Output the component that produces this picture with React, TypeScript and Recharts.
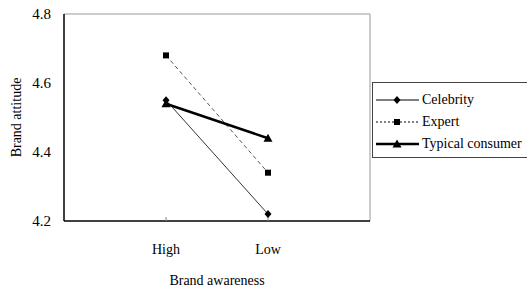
import React from "react";
import { LineChart, Line, XAxis, YAxis, ReferenceLine } from "recharts";

const awareness = ["High", "Low"];
const celebrity = [4.55, 4.22];
const expert = [4.68, 4.34];
const typical = [4.54, 4.44];
const yTicks = [4.2, 4.4, 4.6, 4.8];

const data = awareness.map((name, i) => ({
  pos: i + 1,
  name,
  celebrity: celebrity[i],
  expert: expert[i],
  typical: typical[i],
}));

const FONT = "Liberation Serif, serif";

type DotProps = { cx?: number; cy?: number; index?: number };

const Diamond = ({ cx = 0, cy = 0 }: DotProps) => (
  <polygon points={`${cx},${cy - 4} ${cx + 3.5},${cy} ${cx},${cy + 4} ${cx - 3.5},${cy}`} fill="#000" />
);
const Square = ({ cx = 0, cy = 0 }: DotProps) => (
  <rect x={cx - 3} y={cy - 3} width={6} height={6} fill="#000" />
);
const Triangle = ({ cx = 0, cy = 0 }: DotProps) => (
  <polygon points={`${cx},${cy - 4.5} ${cx + 4.5},${cy + 3.5} ${cx - 4.5},${cy + 3.5}`} fill="#000" />
);

const legendItems = [
  { label: "Celebrity", width: 1, dash: undefined, marker: Diamond },
  { label: "Expert", width: 1, dash: "2 2", marker: Square },
  { label: "Typical consumer", width: 2.5, dash: undefined, marker: Triangle },
];

// legend box runs off the right edge, as in the original
const LegendBox = () => (
  <div
    style={{
      position: "absolute",
      left: 372,
      top: 82,
      border: "1px solid #444",
      width: 160,
      height: 76,
      boxSizing: "border-box",
      padding: "6px 0 0 2px",
      fontSize: 14,
      fontFamily: FONT,
      color: "#000",
      background: "#fff",
    }}
  >
    {legendItems.map((it) => {
      const M = it.marker;
      return (
        <div key={it.label} style={{ display: "flex", alignItems: "center", height: 22 }}>
          <svg width={45} height={12} style={{ marginRight: 2 }}>
            <line x1={1} y1={6} x2={44} y2={6} stroke="#000" strokeWidth={it.width} strokeDasharray={it.dash} />
            <M cx={22} cy={6} />
          </svg>
          <span style={{ lineHeight: "14px" }}>{it.label}</span>
        </div>
      );
    })}
  </div>
);

export default function App() {
  return (
    <div style={{ position: "absolute", left: 0, top: 0, width: 527, height: 289, overflow: "hidden", background: "#fff", fontFamily: FONT }}>
      <LineChart width={527} height={289} data={data} margin={{ top: 14, right: 157, bottom: 0, left: 0 }} style={{ fontFamily: FONT }}>
        <XAxis
          type="number"
          dataKey="pos"
          domain={[0, 3]}
          ticks={[1, 2]}
          tickFormatter={(v: number) => awareness[v - 1]}
          height={68}
          axisLine={{ stroke: "#000", strokeWidth: 1.5 }}
          tickLine={{ stroke: "#888" }}
          tickSize={-4}
          tickMargin={27}
          tick={{ fontSize: 14, fill: "#000", fontFamily: FONT }}
          label={{ value: "Brand awareness", position: "insideBottom", offset: 4, fontSize: 14, fill: "#000", fontFamily: FONT }}
        />
        <YAxis
          type="number"
          domain={[4.2, 4.8]}
          ticks={yTicks}
          tickFormatter={(v: number) => v.toFixed(1)}
          width={64}
          axisLine={{ stroke: "#000", strokeWidth: 1.5 }}
          tickLine={false}
          tickSize={0}
          tickMargin={13}
          tick={{ fontSize: 15, fill: "#000", fontFamily: FONT }}
          label={{ value: "Brand attitude", angle: -90, position: "insideLeft", offset: 16, fontSize: 14, fill: "#000", fontFamily: FONT, style: { textAnchor: "middle" } }}
        />
        <ReferenceLine y={4.8} stroke="#bbb" strokeWidth={1.5} />
        <ReferenceLine x={3} stroke="#bbb" strokeWidth={1.5} />
        <Line dataKey="celebrity" stroke="#333" strokeWidth={1}
          dot={(p: DotProps) => <Diamond key={`c${p.index}`} cx={p.cx} cy={p.cy} />}
          activeDot={false} isAnimationActive={false} />
        <Line dataKey="expert" stroke="#555" strokeWidth={1} strokeDasharray="4 3"
          dot={(p: DotProps) => <Square key={`e${p.index}`} cx={p.cx} cy={p.cy} />}
          activeDot={false} isAnimationActive={false} />
        <Line dataKey="typical" stroke="#000" strokeWidth={2.5}
          dot={(p: DotProps) => <Triangle key={`t${p.index}`} cx={p.cx} cy={p.cy} />}
          activeDot={false} isAnimationActive={false} />
      </LineChart>
      <LegendBox />
    </div>
  );
}
